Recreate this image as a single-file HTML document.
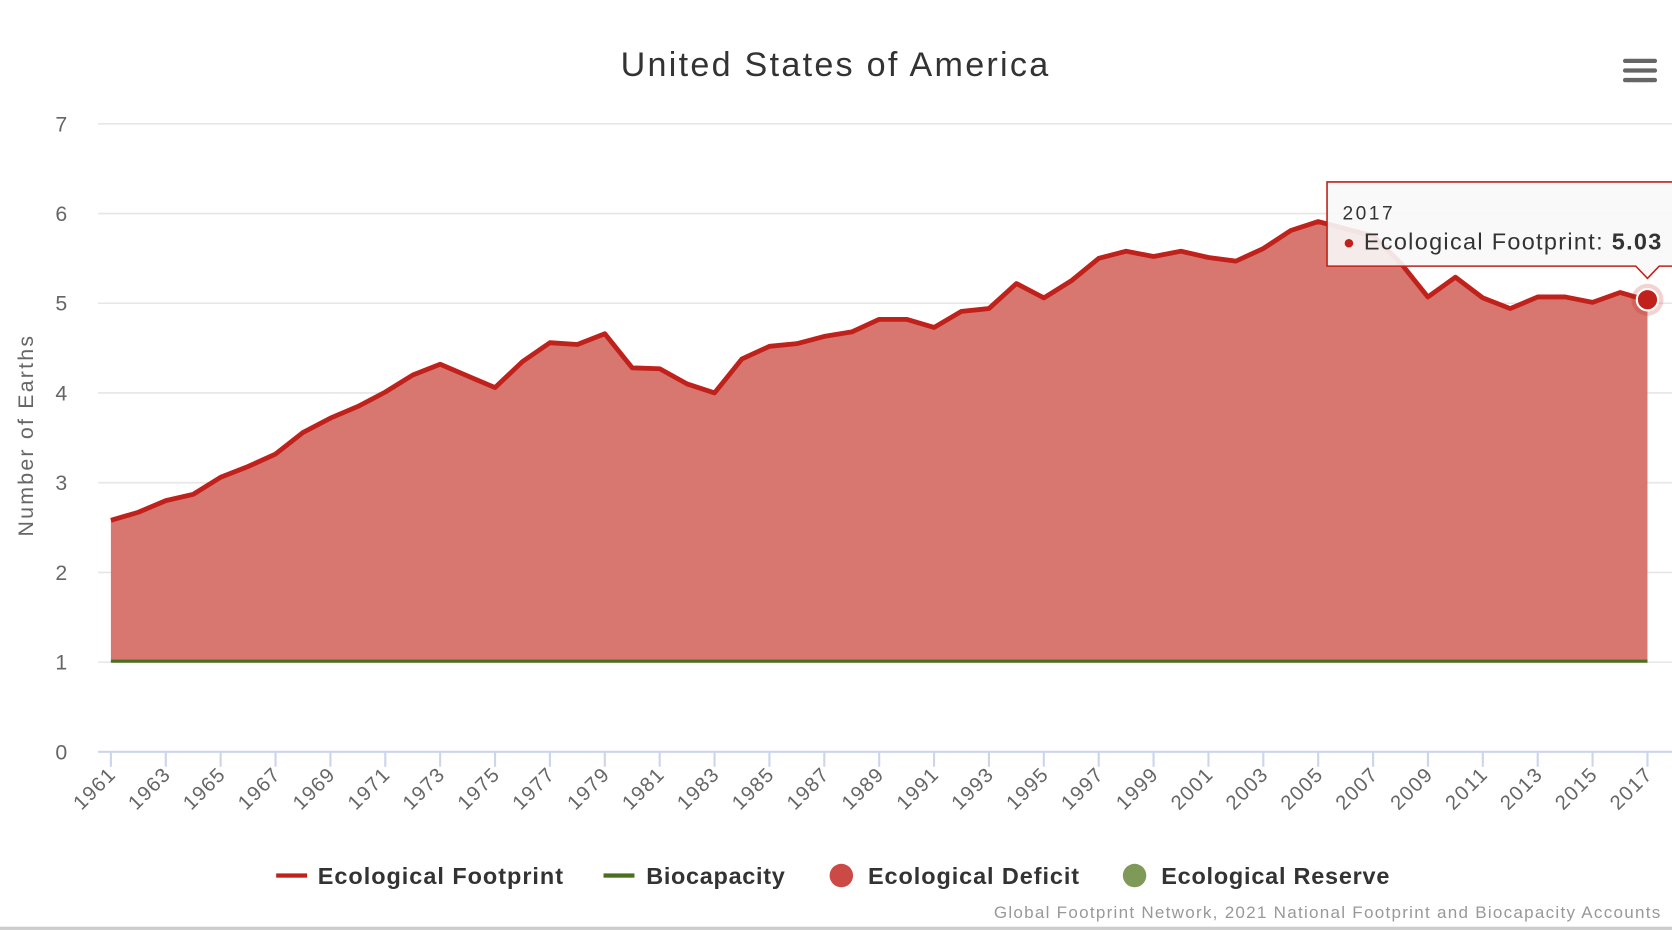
<!DOCTYPE html>
<html><head><meta charset="utf-8"><style>
html,body{margin:0;padding:0;background:#fff;}
svg{display:block;font-family:"Liberation Sans","DejaVu Sans",sans-serif;}
</style></head><body>
<svg id="c" width="1672" height="930" viewBox="0 0 1568 872" xmlns="http://www.w3.org/2000/svg">
<rect width="1568" height="872" fill="#fff"/>
<text x="582" y="71" font-size="32" fill="#333" textLength="401" lengthAdjust="spacing">United States of America</text>
<g fill="#666"><rect x="1522" y="55" width="32" height="4" rx="2"/><rect x="1522" y="64" width="32" height="4" rx="2"/><rect x="1522" y="73" width="32" height="4" rx="2"/></g>
<g id="grid"></g>
<text transform="translate(31,503) rotate(-90)" font-size="20" fill="#666" textLength="188" lengthAdjust="spacing">Number of Earths</text>
<path id="area" fill="#d87670"/>
<line x1="104" x2="1545" y1="620" y2="620" stroke="#4a6f1e" stroke-width="3"/>
<path id="line" fill="none" stroke="#c0211a" stroke-width="4.5" stroke-linejoin="round"/>
<circle cx="1545" cy="281" r="15" fill="#c0211a" opacity="0.2"/>
<circle cx="1545" cy="281" r="10" fill="#c0211a" stroke="#fff" stroke-width="2"/>
<line x1="92" x2="1568" y1="705" y2="705" stroke="#ccd6eb" stroke-width="2"/>
<g id="xt"></g>
<path d="M1244.5 170.5 H1570 V249.5 H1556 L1545 261 L1534 249.5 H1244.5 Z" fill="rgba(248,248,248,0.9)" stroke="#c0211a" stroke-width="1.5"/>
<text x="1259" y="206" font-size="18" fill="#333" textLength="47" lengthAdjust="spacing">2017</text>
<circle cx="1265" cy="228" r="4" fill="#c0211a"/>
<text x="1279" y="234" font-size="22" fill="#333" textLength="279" lengthAdjust="spacing">Ecological Footprint: <tspan font-weight="bold">5.03</tspan></text>
<g font-size="22" font-weight="bold" fill="#333">
<rect x="259" y="819" width="29" height="4" fill="#c0211a"/><text x="298" y="829" textLength="230" lengthAdjust="spacing">Ecological Footprint</text>
<rect x="566" y="819" width="29" height="4" fill="#4a6f1e"/><text x="606" y="829" textLength="130" lengthAdjust="spacing">Biocapacity</text>
<circle cx="789" cy="821" r="11" fill="#cc4a45"/><text x="814" y="829" textLength="198" lengthAdjust="spacing">Ecological Deficit</text>
<circle cx="1064" cy="821" r="11" fill="#7f9a58"/><text x="1089" y="829" textLength="214" lengthAdjust="spacing">Ecological Reserve</text>
</g>
<text x="932" y="861" font-size="16" fill="#999" textLength="625" lengthAdjust="spacing">Global Footprint Network, 2021 National Footprint and Biocapacity Accounts</text>
<rect x="0" y="869" width="1568" height="3" fill="#ccc"/>
</svg>
<script>
var d=[2.58,2.67,2.80,2.87,3.06,3.18,3.32,3.56,3.72,3.85,4.01,4.20,4.32,4.19,4.06,4.35,4.56,4.54,4.66,4.28,4.27,4.10,4.00,4.38,4.52,4.55,4.63,4.68,4.82,4.82,4.73,4.91,4.94,5.22,5.06,5.25,5.50,5.58,5.52,5.58,5.51,5.47,5.61,5.81,5.91,5.83,5.75,5.45,5.07,5.29,5.06,4.94,5.07,5.07,5.01,5.12,5.03];
function X(i){return 104+i*25.732;}function Y(v){return 705-v*84.14;}
var ns="http://www.w3.org/2000/svg",g=document.getElementById('grid'),xt=document.getElementById('xt');
for(var k=0;k<=7;k++){var y=Y(k);if(k>0){var l=document.createElementNS(ns,'line');l.setAttribute('x1',92);l.setAttribute('x2',1568);l.setAttribute('y1',y);l.setAttribute('y2',y);l.setAttribute('stroke','#e6e6e6');l.setAttribute('stroke-width','1.5');g.appendChild(l);}
var t=document.createElementNS(ns,'text');t.setAttribute('x',63);t.setAttribute('y',y+7);t.setAttribute('text-anchor','end');t.setAttribute('font-size','20');t.setAttribute('fill','#666');t.textContent=k;g.appendChild(t);}
var p='',a='M'+X(0)+' '+Y(1);
for(var i=0;i<d.length;i++){p+=(i?'L':'M')+X(i).toFixed(1)+' '+Y(d[i]).toFixed(1);a+='L'+X(i).toFixed(1)+' '+Y(d[i]).toFixed(1);}
a+='L'+X(56)+' '+Y(1)+'Z';
document.getElementById('line').setAttribute('d',p);document.getElementById('area').setAttribute('d',a);
for(var i=0;i<d.length;i+=2){var x=X(i);var l=document.createElementNS(ns,'line');l.setAttribute('x1',x);l.setAttribute('x2',x);l.setAttribute('y1',705);l.setAttribute('y2',719);l.setAttribute('stroke','#ccd6eb');l.setAttribute('stroke-width','2');xt.appendChild(l);
var t=document.createElementNS(ns,'text');t.setAttribute('transform','translate('+(x+5)+',728) rotate(-45)');t.setAttribute('text-anchor','end');t.setAttribute('font-size','19');t.setAttribute('fill','#666');t.setAttribute('textLength','46');t.setAttribute('lengthAdjust','spacing');t.textContent=1961+i;xt.appendChild(t);}
</script>
</body></html>
